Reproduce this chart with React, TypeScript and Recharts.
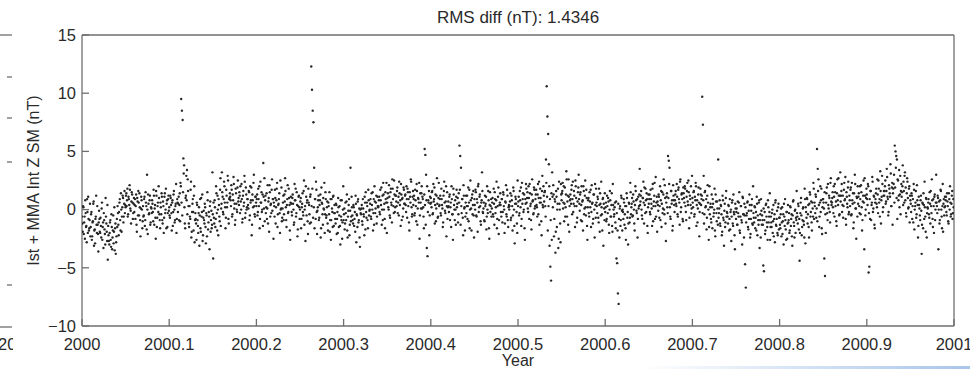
import { ScatterChart, Scatter, XAxis, YAxis, Label } from "recharts";

// Z residuals (nT), one sample list per tenth of a year
const seg00 = [
  -1.2, 0.3, -2.1, -0.6, 0.8, -1.5, -2.8, -0.2, 1.1, -1.8, -0.9, -2.3,
  -0.4, -2.6, -1.1, 0.5, -3.1, -1.7, -0.8, 1.2, -2.0, -1.3, -3.6, -0.1,
  -1.9, -0.7, -2.4, 0.6, -1.5, -3.3, -0.9, -2.1, 1.0, -1.2, -2.7, -4.3,
  -2.2, -3.0, -1.1, -2.6, -0.4, -3.4, -1.8, -2.9, 0.2, -1.6, -3.8, -2.3,
  -1.5, -0.3, -2.2, 0.6, -0.9, 1.4, -1.9, 0.2, 1.0, -0.6, 1.6, 0.4,
  1.2, 0.3, 1.8, -0.4, 0.9, 2.1, 0.1, -1.2, 1.5, 0.6, -0.3, 1.0,
  0.4, -0.8, 1.3, -1.9, 0.7, 1.6, -0.5, 0.2, -2.3, 1.1, 0.0, -1.0,
  -0.6, 0.9, -1.4, 1.5, 0.3, 3.0, -2.1, 0.5, -0.3, 1.2, -1.1, 0.1,
  0.8, -0.2, 1.7, -1.3, 0.4, -2.5, 1.2, -0.7, 0.6, 2.0, -0.4, -1.6,
  0.2, 1.4, -0.9, 0.7, -2.0, 1.1, -0.3, 1.8, 0.5, -1.5, 0.9, -0.1,
];
const seg01 = [
  -0.5, 1.2, 0.4, -1.8, 0.8, -0.2, 1.6, -1.1, 0.3, 2.2, -0.8, 0.6,
  0.5, -0.9, 1.4, 2.3, 9.5, 8.5, 7.7, 4.4, 3.8, -1.2, 1.0, 2.9,
  3.4, 2.6, 0.3, -1.5, -0.6, 1.7, -2.4, -0.2, 0.9, -1.8, 2.0, -0.9,
  -0.8, -2.6, 0.4, -1.4, -0.3, -3.1, 0.9, -1.9, -0.6, 1.3, -2.2, -0.1,
  -1.2, 0.2, -2.9, -0.5, 1.5, -1.7, -0.2, -3.4, 0.7, -0.9, -1.6, 3.2,
  -4.2, -0.7, 0.8, -1.5, 2.0, -0.3, 1.2, -2.2, 0.4, -1.0, 2.7, 0.1,
  3.2, 1.1, -0.4, 2.4, 0.6, -1.6, 1.7, 0.2, 2.9, -0.8, 0.9, 1.4,
  0.8, 2.1, -0.6, 1.3, 2.8, 0.1, -1.3, 1.8, 0.5, -0.2, 2.5, 1.0,
  1.5, -0.3, 0.7, 2.2, -1.1, 1.2, 0.3, 2.9, -0.7, 1.9, 0.0, 0.9,
  0.4, 1.6, -0.9, 2.0, 0.8, -2.2, 1.3, 0.2, 3.0, -0.4, 1.1, 0.6,
];
const seg02 = [
  0.9, -0.5, 1.8, 0.3, -1.6, 2.4, 0.6, -0.2, 1.3, 4.0, 0.1, -1.0,
  1.2, 0.2, -0.8, 2.1, 0.7, -1.9, 1.5, 0.4, -0.3, 2.6, 0.9, -2.5,
  0.3, 1.7, -1.2, 0.8, 2.3, -0.4, 0.5, 1.4, -2.0, 0.0, 1.9, -0.7,
  0.6, -0.9, 1.3, 2.7, 0.2, -1.5, 0.9, -0.3, 1.8, 0.4, -2.6, 1.1,
  -0.2, 1.0, 0.5, -1.3, 2.2, 0.8, -0.6, 1.5, -2.3, 0.3, 1.2, -0.8,
  0.7, -1.6, 0.2, 1.4, -0.5, 2.5, 0.0, -2.7, 1.1, 0.6, -1.0, 1.8,
  0.4, -1.2, 1.3, 12.3, 10.3, 8.5, 7.5, 3.6, 0.9, -0.8, 1.7, -2.1,
  0.2, 1.2, -0.7, 0.8, -2.4, 1.9, 0.5, -1.3, 0.1, 2.3, -0.4, 0.9,
  -0.5, 0.7, -1.8, 0.3, 1.5, -0.9, -2.6, 0.9, -0.2, 1.1, -1.4, 0.4,
  -0.8, 0.5, -2.1, -0.2, 1.0, -1.5, 0.3, -3.0, -0.6, 0.8, -1.1, 2.0,
];
const seg03 = [
  -0.4, -1.7, 0.6, -0.9, 1.3, -2.4, -0.1, 0.9, -1.3, 3.6, -0.6, 0.2,
  -0.9, 0.4, -1.4, -0.2, 1.2, -2.8, -0.5, 0.7, -1.1, 0.1, -3.2, -0.3,
  0.1, -1.0, 0.9, -0.4, -2.2, 0.6, 1.5, -0.7, 0.3, -1.6, 0.8, -0.1,
  0.5, -0.6, 1.4, 0.0, -1.8, 0.9, 2.0, -0.3, 0.6, -1.2, 1.1, 0.2,
  0.8, -0.2, 1.7, 0.4, -1.3, 1.2, 2.3, 0.0, -0.8, 1.5, 0.6, -2.0,
  1.0, 0.2, 2.1, -0.5, 1.5, 0.6, -1.1, 1.8, 0.3, 2.5, -0.2, 1.2,
  0.7, 1.6, -0.3, 1.1, 2.4, 0.4, -1.4, 1.3, 0.9, -0.6, 1.9, 0.5,
  1.2, 0.4, 2.0, -0.7, 1.5, 0.9, -1.8, 1.1, 2.6, 0.2, -0.4, 1.6,
  0.9, -0.5, 1.7, 0.3, 2.2, -1.3, 1.0, 0.6, -2.5, 1.4, 0.1, 2.0,
  1.1, 0.2, -1.6, 5.2, 4.7, 3.0, -3.3, -4.0, 0.8, 1.6, -0.5, 0.5,
];
const seg04 = [
  0.6, 1.5, -0.4, 2.2, 0.9, -1.2, 1.3, 0.1, 2.7, -0.7, 1.0, 0.3,
  0.9, -0.3, 1.8, 0.4, -1.5, 1.2, 2.4, -0.1, 0.7, -2.3, 1.5, 0.2,
  0.3, 1.1, -0.9, 0.6, 2.0, -0.4, -2.6, 1.3, 0.0, 0.8, -1.3, 1.7,
  0.5, -1.1, 1.4, 5.5, 4.6, 3.6, -0.3, 0.9, -2.2, 1.2, 0.2, -0.6,
  1.2, 0.3, -0.8, 1.9, 0.6, -1.6, 2.5, 0.1, 1.0, -0.4, 1.6, -2.4,
  0.4, 1.7, -0.5, 0.9, -1.9, 2.2, 0.2, 1.3, -1.0, 0.6, 3.2, -0.2,
  0.1, -0.9, 1.2, 0.5, -1.7, 2.0, -0.3, 0.8, -2.5, 1.5, 0.3, -0.6,
  0.6, -0.4, 1.8, -1.3, 0.9, 0.2, 2.4, -0.8, 1.1, -2.1, 0.4, 1.4,
  -0.2, 0.9, -1.1, 1.5, 0.3, -2.0, 0.7, 2.1, -0.6, 1.2, -1.5, 0.4,
  0.3, 1.4, -0.7, 0.8, -1.8, 1.9, 0.0, -2.9, 1.1, 0.5, -1.2, 2.5,
];
const seg05 = [
  0.7, -0.5, 1.6, 0.2, -1.4, 2.3, 0.9, -0.2, 1.3, -2.6, 0.5, 1.8,
  1.0, 0.1, 2.0, -0.8, 1.4, 0.5, -1.7, 2.6, 0.8, -0.3, 1.7, 0.3,
  1.3, 0.4, -0.6, 2.2, 1.0, -1.3, 1.8, 0.6, -2.2, 2.9, 0.2, 1.2,
  1.5, 0.3, 4.3, 10.6, 8.0, 6.5, 3.9, -3.1, -4.9, -6.1, -2.6, 1.1,
  2.1, -2.3, 0.9, -3.7, 1.6, -1.5, 0.5, -3.3, 2.4, 0.0, -2.8, 1.3,
  1.4, 2.3, 0.6, -1.0, 1.9, 0.2, 3.3, -0.6, 1.2, 2.6, -1.9, 0.8,
  0.9, 1.7, -0.4, 2.4, 0.5, 1.2, -1.5, 2.0, 0.3, -0.7, 1.5, 3.0,
  0.5, 1.3, -0.9, 2.0, 0.7, -1.8, 1.6, 0.1, 2.5, -0.5, 1.0, -2.6,
  0.8, -0.3, 1.5, 0.2, -1.5, 2.1, 0.6, -0.8, 1.3, -2.4, 0.4, 1.8,
  0.3, 1.1, -0.7, 1.8, -1.9, 0.5, 2.4, -0.4, 0.9, -3.1, 0.1, 1.4,
];
const seg06 = [
  0.2, -1.0, 1.2, -0.3, 0.7, -2.0, 1.6, -0.6, 0.4, -1.4, 2.2, 0.0,
  -0.4, 0.6, -1.6, -4.2, -4.6, -7.2, -8.1, -2.4, 0.3, -0.9, 1.0, -1.8,
  -0.2, 0.9, -1.3, 0.3, -2.6, 1.4, -0.7, -3.0, 0.6, -1.1, 2.3, -0.4,
  0.5, -0.6, 1.3, 0.0, -1.8, 2.0, 0.8, -0.3, -2.4, 1.1, 0.3, 3.5,
  0.7, 1.6, -0.5, 1.0, 2.4, -1.2, 0.4, 1.8, -0.2, 0.9, -2.0, 1.3,
  0.9, -0.2, 1.7, 0.5, -1.4, 2.2, 0.3, 1.2, -0.8, 2.8, 0.6, -1.9,
  0.4, 1.3, -0.7, 2.0, 0.8, -1.5, 1.5, 0.1, 2.6, -0.4, 1.0, -2.7,
  1.1, 0.2, 4.6, 4.2, 3.6, -0.6, 1.6, 0.5, -1.8, 2.1, 0.8, -0.2,
  1.3, 0.5, 2.2, -0.4, 1.7, 0.9, -1.3, 2.6, 0.2, 1.4, -0.8, 1.9,
  1.0, 2.0, 0.3, -0.9, 1.6, 0.7, 2.5, -1.6, 1.2, 0.4, -0.3, 2.9,
];
const seg07 = [
  0.6, 1.5, -0.6, 1.1, 2.3, -1.4, 0.8, 0.1, 1.9, -2.3, 0.5, 1.3,
  0.9, 9.7, 7.3, 2.9, -0.4, 1.6, 0.3, -1.7, 1.2, 0.6, -2.6, 2.0,
  0.2, -0.8, 1.3, -1.6, 0.5, -0.3, 1.8, -2.3, 0.7, -1.0, 0.1, 4.3,
  -0.3, 0.8, -1.4, 0.3, -2.2, 1.2, -0.7, -3.1, 0.5, -1.1, 1.6, -0.2,
  -0.6, 0.4, -1.8, 0.9, -0.2, -2.7, 0.6, -1.2, 1.3, -0.4, -3.4, 0.1,
  -0.2, -1.3, 0.7, -0.6, 1.5, -2.0, 0.3, -0.9, -3.0, 1.0, -0.4, 0.5,
  -4.7, -6.7, -0.5, 0.6, -1.5, -0.1, 1.3, -2.4, -0.8, 0.4, -1.2, 2.0,
  -0.7, 0.3, -1.6, -0.2, 1.1, -2.2, -0.9, 0.6, -3.3, -0.4, 0.9, -1.3,
  -0.9, -4.8, -5.3, -0.2, -1.8, 0.5, -1.1, -2.6, 0.2, -0.6, 1.4, -1.5,
  -1.1, -0.3, -2.0, 0.4, -0.8, -2.8, 0.8, -1.4, -0.1, -2.2, 0.5, -0.7,
];
const seg08 = [
  -1.3, -0.4, -2.3, 0.2, -1.0, -3.0, -0.6, 0.9, -1.7, -0.2, -2.5, 0.4,
  -0.9, -2.0, 0.3, -1.4, -0.4, -3.1, 0.7, -1.1, -2.4, 0.0, -0.7, 1.6,
  -0.6, 0.5, -1.7, -4.4, -0.3, 1.0, -2.2, -0.9, 0.2, -1.3, 1.8, -2.9,
  -0.2, 1.0, -1.2, 0.4, -2.4, 1.5, -0.6, 0.7, -1.8, 0.1, 2.3, -0.8,
  0.3, 1.3, -0.7, 5.2, 3.5, 2.6, -1.5, 0.6, -0.2, 1.8, -2.1, 0.9,
  0.6, -4.2, -5.7, -2.0, 1.4, -0.3, 2.2, 0.1, 1.0, -1.1, 2.7, 0.4,
  1.0, 0.2, 2.0, -0.6, 1.5, 0.7, -1.4, 2.6, 0.4, 1.2, -0.4, 3.2,
  1.2, 2.2, 0.4, -0.7, 1.7, 0.8, 2.8, -1.3, 1.1, 0.2, 2.4, -0.2,
  0.8, 1.7, -0.5, 2.3, 0.5, -1.6, 1.4, 3.0, 0.1, -2.5, 1.0, 2.0,
  1.1, 0.3, 2.0, -0.4, 1.5, -1.8, 0.7, 2.5, -3.4, 1.2, 0.0, 1.8,
];
const seg09 = [
  0.9, 2.2, -5.4, -4.9, -0.8, 1.6, 0.4, 2.8, -0.2, 1.2, -1.3, 0.6,
  1.4, 0.5, 2.6, -0.3, 1.8, 0.9, 3.3, -1.2, 1.1, 2.2, 0.2, 1.6,
  1.6, 2.5, 0.7, 3.5, 1.1, -0.5, 2.1, 1.4, 3.9, 0.3, 1.9, -1.3,
  1.8, 3.0, 5.5, 5.0, 4.6, 4.3, 2.6, 0.8, 3.4, 1.3, -0.4, 2.2,
  1.5, 3.8, 2.4, 0.6, 3.2, 1.9, -0.6, 2.7, 1.0, 0.2, 2.0, 1.2,
  0.5, 1.4, -0.8, 0.9, 2.2, -1.7, 0.3, 1.6, -0.4, 0.8, -2.4, 1.1,
  0.1, -0.9, 1.2, -3.8, 0.6, -1.6, 0.4, 2.4, -0.6, 1.0, -2.4, 0.2,
  0.6, -0.4, 1.5, -1.2, 0.3, 2.6, -0.8, 0.9, -2.0, 1.3, 0.0, 3.0,
  0.3, 1.2, -3.4, 0.7, -0.9, 1.7, 0.0, -1.6, 2.2, 0.5, -0.5, 1.1,
  0.8, -0.2, 1.4, 0.3, -1.2, 0.9, 2.0, -0.6, 0.5, 1.6, -0.3, 0.2,
];

// in-between samples (half a step earlier in time)
const seg00b = [
  -0.6, -1.9, 0.2, -1.1, -2.5, -0.3, -1.4, 0.9, -2.0, -0.8, -1.6, 0.5,
  -1.5, -0.2, -2.3, -1.0, 0.7, -1.8, -2.9, -0.6, -1.3, 0.3, -2.1, -1.1,
  -0.8, -2.0, -1.4, 0.1, -2.6, -1.1, -0.3, -1.7, -3.0, -0.6, -1.9, 0.4,
  -1.4, -2.7, -2.0, -0.9, -3.2, -1.5, -2.4, -0.5, -1.9, -3.5, -1.2, -2.8,
  -0.8, 0.3, -1.3, -0.2, 0.9, -1.8, 0.0, -0.6, 1.2, -1.1, 0.5, -0.3,
  0.2, 1.4, 0.8, -0.6, 1.1, 0.4, 1.7, -0.1, 0.7, 1.3, -0.8, 0.5,
  -0.2, 0.9, 0.3, -1.3, 1.0, -0.5, 0.6, 1.4, -0.9, 0.1, 0.8, -1.6,
  0.3, -0.5, 1.1, -0.9, 0.6, -1.7, 0.0, 1.3, -0.4, 0.8, -1.3, 0.2,
  -0.3, 0.5, -1.0, 1.2, 0.1, -0.7, 1.6, -1.5, 0.3, -0.2, 1.0, -0.9,
  0.6, -0.4, 1.1, -1.2, 0.3, -0.7, 1.4, 0.0, -1.6, 0.8, -0.3, 1.2,
];
const seg01b = [
  0.2, -0.7, 1.0, -0.3, 0.6, -1.4, 1.3, 0.0, -0.9, 0.5, -2.0, 0.9,
  -0.2, 1.1, 0.4, -1.0, 2.0, 0.6, -0.5, 1.5, 3.1, 0.2, -1.6, 1.2,
  0.8, -0.4, 1.6, -1.2, 0.3, -0.8, 2.4, -1.9, 0.5, -0.2, 1.2, -2.8,
  -0.3, -1.2, 0.6, -0.9, -2.0, 0.2, -0.5, -1.6, 1.0, -0.2, -2.7, -0.7,
  -0.9, 0.5, -1.5, -0.3, -2.3, 0.8, -1.1, -0.6, 0.3, -1.9, -0.1, -1.3,
  -0.4, 0.6, -1.2, 0.2, -0.8, 1.4, -1.8, 0.0, 0.9, -0.6, 1.7, -1.4,
  0.5, 1.5, -0.2, 0.9, 2.0, 0.2, -0.7, 1.2, 0.6, 2.5, -1.2, 1.0,
  1.1, 0.3, 1.7, -0.4, 0.8, 2.2, 0.5, -0.9, 1.4, 0.0, 1.9, 0.7,
  0.4, 1.2, 2.0, 0.0, 0.9, -0.8, 1.6, 0.6, 2.4, -0.3, 1.3, 0.2,
  0.9, 0.1, 1.5, -0.5, 0.6, 1.9, -1.3, 0.8, 2.3, 0.3, -0.6, 1.1,
];
const seg02b = [
  0.3, 1.3, -0.2, 0.9, 2.0, -0.8, 0.6, 1.5, 0.0, -1.4, 1.1, 2.7,
  0.8, -0.3, 1.4, 0.1, -1.2, 1.0, 2.1, -0.6, 0.5, 1.7, -0.1, 0.9,
  0.6, -0.6, 1.0, 0.2, 1.8, -1.5, 0.4, 0.9, -0.3, 2.5, 0.1, -1.0,
  0.1, 1.2, -0.4, 0.7, 1.6, -0.9, 0.4, 2.1, -0.2, 1.0, -1.8, 0.6,
  0.5, -0.5, 1.3, 0.0, -1.1, 0.8, 1.8, -0.3, 0.4, -1.7, 1.1, 0.2,
  0.0, 1.0, -0.8, 0.5, -0.2, 1.6, -1.3, 0.3, 2.0, -0.5, 0.8, -2.1,
  0.6, -0.4, 1.1, -1.1, 0.3, 1.8, -0.7, 0.2, -1.6, 0.9, 2.4, -0.2,
  -0.1, 0.8, -0.9, 0.4, 1.3, -1.6, 0.6, -0.4, 1.0, 0.0, -2.0, 1.5,
  -0.7, 0.2, -1.2, 0.6, -0.4, -1.9, 0.9, -0.9, 0.1, -1.5, 1.2, -0.3,
  -0.3, -1.2, 0.4, -0.8, -2.0, 0.2, -0.5, -1.4, 0.8, -0.9, -2.5, 0.0,
];
const seg03b = [
  -0.9, 0.1, -1.2, -0.3, 0.7, -1.8, -0.6, 0.4, -2.2, -0.1, -1.0, 1.1,
  -0.5, -1.2, 0.2, -0.8, -1.9, 0.5, -0.4, -1.5, 0.9, -0.9, -2.4, 0.0,
  -0.4, 0.4, -1.3, 0.1, -0.6, 1.1, -1.7, -0.2, 0.6, -0.9, 1.7, -0.5,
  0.0, 0.9, -0.8, 0.4, 1.5, -0.3, -1.3, 0.7, 0.1, 1.2, -0.6, 0.3,
  0.3, 1.1, -0.4, 0.8, 1.9, 0.0, -0.9, 1.3, 0.5, -1.6, 0.9, 2.3,
  0.6, 1.4, 0.0, 1.1, -0.7, 1.8, 0.4, 2.6, 0.9, -0.3, 1.3, 0.2,
  1.2, 0.3, 1.9, 0.6, -0.5, 1.4, 0.8, 2.2, -0.9, 1.0, 0.1, 1.7,
  0.5, 1.3, -0.2, 0.9, 1.8, 0.3, -1.1, 1.5, 0.6, 2.4, -0.6, 1.1,
  0.4, 1.2, -0.3, 0.8, -1.0, 1.6, 0.1, 0.9, 2.3, -0.5, 0.6, 1.4,
  0.1, 0.9, -0.6, 1.3, 0.4, -1.3, 0.8, 2.0, -0.2, 0.6, -2.2, 1.1,
];
const seg04b = [
  1.0, 0.2, 1.6, -0.3, 0.7, 1.9, 0.4, -1.0, 1.2, 0.5, -0.6, 2.3,
  0.4, 1.2, -0.5, 0.9, 0.1, -1.1, 1.6, 0.6, -0.3, 2.0, 0.3, -0.8,
  0.7, -0.2, 1.3, 0.2, -1.5, 0.9, -0.4, 1.8, 0.4, -0.9, 0.0, 1.1,
  0.2, 1.0, -0.4, 0.6, 1.7, -1.3, 0.3, 0.9, -0.7, 2.1, 0.1, -1.8,
  0.6, -0.3, 1.2, 0.3, -1.0, 1.7, 0.0, 0.8, -1.8, 1.3, 0.4, -0.5,
  0.9, 0.0, 1.5, -0.6, 0.6, 2.0, -0.2, 1.1, 0.3, -1.3, 0.8, 1.6,
  -0.3, 0.6, -1.0, 0.3, 1.1, -0.6, 0.0, 1.6, -1.6, 0.4, -0.2, 0.9,
  0.1, 1.0, -0.6, 0.5, 1.5, -0.3, 0.8, -1.6, 0.3, 1.9, -0.9, 0.6,
  0.4, -0.6, 0.9, -0.2, 1.3, 0.0, -1.2, 0.6, -0.4, 1.7, -0.9, 0.2,
  0.0, 0.7, -0.9, 1.2, 0.3, -0.5, 1.6, -1.4, 0.5, 0.9, -0.2, -2.0,
];
const seg05b = [
  0.3, 1.1, -0.3, 0.8, 1.9, -0.8, 0.5, 1.4, 0.0, -1.6, 0.9, 2.2,
  0.6, 1.5, -0.2, 1.0, 2.2, 0.3, -0.9, 1.3, 0.7, -0.4, 1.9, 0.1,
  0.9, 1.7, 0.2, 1.3, -0.4, 2.4, 0.6, 1.0, -1.0, 1.6, 0.4, 2.0,
  0.7, 1.6, -0.6, 2.3, 1.1, -1.8, 0.3, 2.0, 0.9, -0.9, 1.4, 3.2,
  0.2, 1.3, -0.8, 0.7, -1.9, 1.1, 0.0, 1.8, -2.5, 0.5, -1.2, 2.2,
  0.8, 1.6, 0.1, 2.0, 0.5, -0.6, 1.3, 2.6, 0.7, -1.3, 1.1, 0.3,
  1.3, 0.5, 2.1, 0.9, -0.2, 1.6, 0.3, 2.5, 1.0, -1.1, 0.7, 1.9,
  0.9, -0.1, 1.5, 0.4, -1.0, 0.8, 2.0, -0.4, 1.2, 0.2, 1.7, -1.4,
  0.2, 1.0, -0.6, 0.7, 1.7, -0.2, 0.5, -1.2, 1.3, 0.0, 2.2, -0.7,
  0.6, -0.3, 0.9, -1.1, 0.4, 1.4, -0.5, 0.2, -1.8, 1.0, 0.5, -0.9,
];
const seg06b = [
  -0.2, 0.6, -0.8, 0.3, 1.0, -1.3, 0.0, 0.8, -0.6, 1.4, -1.9, 0.4,
  -0.6, 0.2, -1.1, 0.7, -0.3, -1.8, 0.5, -0.8, 0.1, -1.4, 1.2, -0.1,
  0.0, -0.8, 0.6, -0.4, -1.6, 0.3, 1.0, -0.2, -1.2, 0.5, -0.7, 1.5,
  0.2, 1.0, -0.5, 0.7, -1.2, 0.4, 1.6, -0.1, 0.9, -0.8, 0.1, 1.3,
  0.4, 1.2, 0.0, -0.8, 1.0, 0.6, 1.9, -0.3, 0.8, 1.4, -1.4, 0.2,
  0.5, 1.3, -0.4, 0.9, 0.1, 1.8, -1.0, 0.7, 2.3, 0.3, -0.6, 1.1,
  0.7, -0.1, 1.1, 0.3, -0.9, 1.6, 0.5, -0.3, 1.3, 0.0, 2.1, -1.2,
  0.6, 1.4, -0.3, 1.0, 2.2, 0.2, -0.8, 1.6, 0.8, -1.4, 1.2, 0.4,
  0.8, 1.6, 0.3, 1.1, -0.6, 1.9, 0.6, 2.4, -0.2, 1.3, 0.9, -1.0,
  1.4, 0.6, 1.8, -0.2, 1.1, 2.3, 0.4, 1.5, -0.7, 0.9, 2.0, 0.1,
];
const seg07b = [
  1.0, 0.2, 1.6, -0.4, 0.8, 2.0, 0.4, -1.1, 1.3, 0.6, -0.2, 1.8,
  0.4, 1.2, -0.3, 0.8, -1.2, 1.5, 0.2, 0.9, -0.7, 2.1, 0.0, -1.5,
  -0.4, 0.5, -1.1, 0.2, 0.9, -0.6, 0.0, -1.8, 1.3, -0.3, 0.7, -1.3,
  -0.7, 0.1, -1.2, 0.4, -0.4, -1.9, 0.8, -0.9, -0.1, -1.5, 1.0, -0.6,
  -0.3, -1.2, 0.3, -0.8, -1.7, 0.0, -0.6, 0.8, -1.4, -0.2, -2.2, 0.5,
  -0.8, 0.1, -1.3, -0.3, 0.6, -1.8, -0.6, 0.3, -1.1, 1.1, -0.4, -2.4,
  -0.5, 0.2, -1.1, -0.3, 0.7, -1.7, -0.8, 0.4, -2.1, -0.1, 0.9, -1.3,
  -0.3, -1.1, 0.2, -0.7, -1.8, 0.5, -0.5, -1.3, 0.8, -0.9, -2.4, -0.1,
  -0.5, -1.3, 0.1, -0.9, -2.1, 0.4, -0.6, -1.5, 0.8, -1.1, -0.2, -2.6,
  -0.6, -1.5, 0.0, -1.0, -2.3, -0.4, 0.6, -1.3, -0.8, -2.0, 0.2, -1.7,
];
const seg08b = [
  -0.7, -1.6, 0.1, -1.1, -2.1, -0.4, 0.5, -1.4, -0.9, -2.6, -0.2, -1.2,
  -1.1, -0.3, -1.8, 0.2, -0.8, -2.3, -0.5, 0.8, -1.4, -0.1, -2.0, -0.9,
  -0.3, -1.2, 0.3, -0.8, -2.0, 0.6, -0.5, -1.5, 0.1, -1.0, -2.4, 0.9,
  0.2, -0.7, 0.9, -0.4, -1.5, 0.5, 1.3, -0.2, -1.1, 0.6, -0.6, 1.8,
  0.6, -0.3, 1.1, 0.1, -1.0, 1.6, 0.4, -0.6, 2.0, 0.8, -1.6, 0.2,
  0.9, 0.1, 1.5, -0.4, 0.6, 1.9, -0.9, 0.4, 1.2, -0.2, 2.3, 0.7,
  0.6, 1.5, -0.3, 1.1, 2.2, 0.3, -1.0, 1.4, 0.8, 2.7, -0.5, 1.2,
  0.7, 1.6, -0.2, 1.2, 0.3, 2.3, 0.9, -0.8, 1.5, 0.5, 1.9, -0.4,
  1.2, 0.3, 1.9, -0.4, 0.8, 1.4, -1.1, 0.6, 2.2, 0.1, 1.1, -0.6,
  0.5, 1.4, -0.3, 0.9, 2.1, 0.2, -0.9, 1.2, 0.6, 2.7, -0.5, 1.0,
];
const seg09b = [
  1.3, 0.4, 2.0, -0.3, 0.9, 1.6, -0.9, 0.6, 2.4, 0.1, 1.1, -1.6,
  0.9, 1.8, 0.2, 1.3, 2.5, 0.6, -0.6, 1.6, 0.8, 2.9, -0.2, 1.2,
  1.2, 2.0, 0.5, 1.6, 2.8, 0.9, -0.2, 1.8, 1.1, 3.1, 0.3, 2.3,
  1.4, 2.2, 0.6, 1.9, 3.6, 1.0, -0.8, 2.5, 1.2, 0.2, 2.9, 1.6,
  1.1, 2.0, 0.4, 1.6, 2.9, 0.8, -0.3, 1.4, 2.4, 0.1, 1.8, -1.1,
  0.8, -0.2, 1.2, 0.3, -1.1, 1.7, 0.0, 0.6, -0.7, 2.1, 0.4, -1.4,
  0.4, -0.5, 0.8, -0.1, -1.3, 0.5, 1.4, -0.8, 0.2, -1.9, 0.9, -0.3,
  0.1, 0.9, -0.7, 0.5, 1.6, -0.3, 0.8, -1.5, 0.3, 1.1, -0.9, 0.6,
  0.6, -0.3, 1.0, 0.0, -1.2, 0.8, 1.6, -0.6, 0.3, -1.9, 0.9, 0.2,
  0.3, 1.1, -0.5, 0.7, -1.0, 1.4, 0.0, 0.6, -0.4, 1.2, -0.8, 0.9,
];

const segments = [seg00, seg01, seg02, seg03, seg04, seg05, seg06, seg07, seg08, seg09];
const segmentsB = [seg00b, seg01b, seg02b, seg03b, seg04b, seg05b, seg06b, seg07b, seg08b, seg09b];
const yearTicks = [2000, 2000.1, 2000.2, 2000.3, 2000.4, 2000.5, 2000.6, 2000.7, 2000.8, 2000.9, 2001];
const diffTicks = [-10, -5, 0, 5, 10, 15];
const rmsDiff = "1.4346";

// samples are evenly spaced in time inside each tenth of a year
const toPoints = (segs: number[][], shift: number) =>
  segs.flatMap((seg, s) =>
    seg.map((v, i) => ({ year: 2000 + s * 0.1 + ((i + shift) / seg.length) * 0.1, diff: v }))
  );
const points = [...toPoints(segments, 0.5), ...toPoints(segmentsB, 0)];
const frameCorners = [
  { year: 2000, diff: -10 },
  { year: 2001, diff: 15 },
];

const FONT = '"Liberation Sans", Arial, Helvetica, sans-serif';
const AXIS = { stroke: "#6e6e6e", strokeWidth: 1.3 };
const fmtNum = (v: number) => String(v).replace("-", "\u2212");

const Dot = (props: any) => {
  const { cx, cy } = props;
  if (cx == null || cy == null) return <g />;
  return <circle cx={cx} cy={cy} r={1.2} fill="#262626" />;
};

export default function App() {
  return (
    <div style={{ position: "absolute", left: 0, top: 0, width: 970, height: 372, background: "#fff", overflow: "hidden" }}>
      <ScatterChart width={970} height={372} margin={{ top: 25, right: 6, bottom: 16, left: 22 }}>
        <XAxis
          xAxisId="b"
          type="number"
          dataKey="year"
          domain={[2000, 2001]}
          ticks={yearTicks}
          interval={0}
          height={30}
          allowDataOverflow
          tickSize={-7}
          tickMargin={19}
          axisLine={AXIS}
          tickLine={AXIS}
          tickFormatter={fmtNum}
          tick={{ fill: "#2a2a2a", fontSize: 16.5, fontFamily: FONT }}
        >
          <Label
            content={({ viewBox }: any) => (
              <text x={viewBox.x + viewBox.width / 2} y={viewBox.y + 40} textAnchor="middle" fill="#2a2a2a" fontSize={16} fontFamily={FONT}>
                Year
              </text>
            )}
          />
        </XAxis>
        <XAxis
          xAxisId="t"
          orientation="top"
          type="number"
          dataKey="year"
          domain={[2000, 2001]}
          ticks={yearTicks}
          interval={0}
          height={10}
          allowDataOverflow
          tickSize={-7}
          axisLine={AXIS}
          tickLine={AXIS}
          tick={false}
        >
          <Label
            content={({ viewBox }: any) => (
              <text x={viewBox.x + viewBox.width / 2} y={viewBox.y - 2} textAnchor="middle" fill="#2a2a2a" fontSize={17} fontFamily={FONT}>
                {`RMS diff (nT): ${rmsDiff}`}
              </text>
            )}
          />
        </XAxis>
        <YAxis
          yAxisId="l"
          type="number"
          dataKey="diff"
          domain={[-10, 15]}
          ticks={diffTicks}
          interval={0}
          width={60}
          allowDataOverflow
          tickSize={-7}
          tickMargin={13}
          axisLine={AXIS}
          tickLine={AXIS}
          tickFormatter={fmtNum}
          tick={{ fill: "#2a2a2a", fontSize: 16.5, fontFamily: FONT }}
        >
          <Label
            content={({ viewBox }: any) => {
              const x = viewBox.x + 11;
              const y = viewBox.y + viewBox.height / 2;
              return (
                <text x={x} y={y} transform={`rotate(-90 ${x} ${y})`} textAnchor="middle" dominantBaseline="central" fill="#2a2a2a" fontSize={16} fontFamily={FONT}>
                  Ist + MMA Int Z SM (nT)
                </text>
              );
            }}
          />
        </YAxis>
        <YAxis
          yAxisId="r"
          orientation="right"
          type="number"
          dataKey="diff"
          domain={[-10, 15]}
          ticks={diffTicks}
          interval={0}
          width={10}
          allowDataOverflow
          tickSize={-7}
          axisLine={AXIS}
          tickLine={AXIS}
          tick={false}
        />
        <Scatter xAxisId="t" yAxisId="r" data={frameCorners} shape={() => <g />} isAnimationActive={false} />
        <Scatter xAxisId="b" yAxisId="l" data={points} shape={Dot} isAnimationActive={false} />
      </ScatterChart>

      {/* edge of the neighbouring panel, cut off by the crop */}
      <svg width={13} height={372} style={{ position: "absolute", left: 0, top: 0 }}>
        <line x1={0} y1={35} x2={12} y2={35} {...AXIS} />
        <line x1={0} y1={327} x2={12} y2={327} {...AXIS} />
        {[77, 118, 162, 285].map((y) => (
          <line key={y} x1={7} y1={y} x2={12} y2={y} {...AXIS} />
        ))}
        <text x={-2} y={350} fill="#2a2a2a" fontSize={16.5} fontFamily={FONT}>2001</text>
      </svg>
      <div
        style={{
          position: "absolute",
          left: 640,
          top: 366,
          width: 330,
          height: 3,
          background: "linear-gradient(to right, rgba(170,200,235,0), #a8c5ea)",
        }}
      />
    </div>
  );
}
